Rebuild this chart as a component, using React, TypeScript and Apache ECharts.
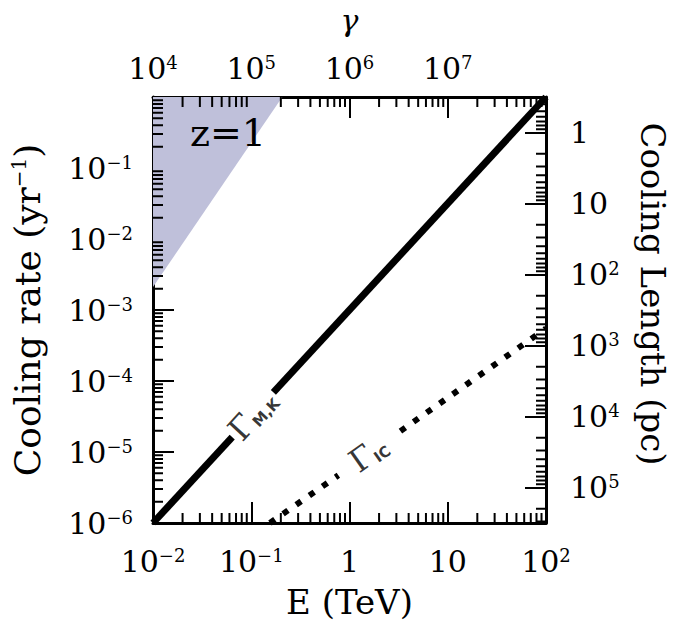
import React, { useEffect, useRef } from "react";
import * as echarts from "echarts";

// ---- tick values (actual quantities; axes are drawn in log10 space) ----
const energyMajor = [0.01, 0.1, 1, 10, 100];
const gammaMajor = [1e4, 1e5, 1e6, 1e7, 1e8];
const gammaLabels = [1e4, 1e5, 1e6, 1e7];
const rateMajor = [1e-6, 1e-5, 1e-4, 1e-3, 1e-2, 1e-1, 1];
const rateLabels = [1e-6, 1e-5, 1e-4, 1e-3, 1e-2, 1e-1];
const lengthMajor = [1, 10, 100, 1e3, 1e4, 1e5];

// ---- data (E in TeV, cooling rate in yr^-1) ----
const mkLowE = [0.01, 0.064];
const mkLowRate = [1e-6, 1.62e-5];
const mkHighE = [0.168, 100];
const mkHighRate = [6.9e-5, 1];
const icLowE = [0.155, 0.77];
const icLowRate = [1e-6, 4.7e-6];
const icHighE = [3.3, 100];
const icHighRate = [1.97e-5, 5.5e-4];
const shadeE = [0.01, 0.207];
const shadeRate = [2.1e-3, 1];
const labelE = [0.103, 1.56];
const labelRate = [3.3e-5, 9.5e-6];
const labelText = ["{g|Γ}{s|M,K}", "{g|Γ}{s|IC}"];

const SERIF = "DejaVu Serif";
const lg = (v: number) => Math.log10(v);

const GRID = { left: 153, top: 95, width: 393, height: 428 };
const eR = [-2, 2];
const gR = [4, 8];
const rR = [-6, 0];
const lR = [-0.5, 5.5];
const MINOR_PX = 10;
const xUnit = (eR[1] - eR[0]) / GRID.width;
const yUnit = (rR[1] - rR[0]) / GRID.height;

function minorOf(majors: number[]): number[] {
  const out: number[] = [];
  for (const m of majors) for (let k = 2; k <= 9; k++) out.push(m * k);
  return out;
}

function zip(a: number[], b: number[]) {
  return a.map((v, i) => [lg(v), lg(b[i])]);
}

// side: 0 bottom, 1 top, 2 left, 3 right ; short minor ticks, separated by gaps
function minorSegments(side: number, values: number[], range: number[]) {
  const out: any[] = [];
  values.forEach((val) => {
    const t = lg(val);
    if (t <= range[0] || t >= range[1]) return;
    if (side === 0) out.push([t, rR[0]], [t, rR[0] + MINOR_PX * yUnit], [t, "-"]);
    else if (side === 1) out.push([t, rR[1]], [t, rR[1] - MINOR_PX * yUnit], [t, "-"]);
    else if (side === 2) out.push([eR[0], t], [eR[0] + MINOR_PX * xUnit, t], ["-", t]);
    else out.push([eR[1], t], [eR[1] - MINOR_PX * xUnit, t], ["-", t]);
  });
  return out;
}

function powLabel(v: number): string {
  const n = Math.round(v);
  if (n === 0) return "{b|1}";
  if (n === 1) return "{b|10}";
  const s = n < 0 ? "−" + -n : String(n);
  return "{b|10}{s|" + s + "}";
}

const labelRich = {
  b: { fontSize: 30, fontFamily: SERIF, color: "#000" },
  s: { fontSize: 18, fontFamily: SERIF, color: "#000", verticalAlign: "top" },
};

function axis(extra: any, ticks: number[], labels: number[], margin: number) {
  return {
    type: "value",
    axisLine: { show: true, onZero: false, lineStyle: { color: "#000", width: 3 } },
    splitLine: { show: false },
    axisTick: { show: true, inside: true, length: 21, lineStyle: { color: "#000", width: 2 }, customValues: ticks.map(lg) },
    axisLabel: { customValues: labels.map(lg), formatter: powLabel, rich: labelRich, margin },
    ...extra,
  };
}

function minorSeries(xIdx: number, yIdx: number, data: any[]) {
  return {
    type: "line",
    xAxisIndex: xIdx,
    yAxisIndex: yIdx,
    silent: true,
    symbol: "none",
    data,
    lineStyle: { color: "#000", width: 2 },
  };
}

export default function App() {
  const ref = useRef<HTMLDivElement>(null);
  useEffect(() => {
    if (!ref.current) return;
    const chart = echarts.init(ref.current, undefined, { renderer: "svg" });
    const labelSeries = labelE.map((e, i) => ({
      type: "scatter",
      data: [[lg(e), lg(labelRate[i])]],
      symbolSize: 0,
      silent: true,
      label: {
        show: true,
        position: "inside",
        rotate: i === 0 ? 47.4 : 35.3,
        color: "#000",
        formatter: labelText[i],
        rich: {
          g: { fontSize: 32, fontFamily: SERIF, color: "#000" },
          s: { fontSize: 15, fontFamily: "DejaVu Sans", fontWeight: "bold", color: "#000", verticalAlign: "bottom" },
        },
      },
    }));
    chart.setOption({
      animation: false,
      backgroundColor: "#fff",
      title: {
        text: "z=1",
        left: 190,
        top: 114,
        padding: 0,
        textStyle: { fontSize: 38, fontFamily: SERIF, fontWeight: "normal", color: "#000" },
      },
      grid: [{ ...GRID }],
      xAxis: [
        axis(
          {
            position: "bottom",
            min: eR[0],
            max: eR[1],
            name: "E (TeV)",
            nameLocation: "middle",
            nameGap: 62,
            nameTextStyle: { fontSize: 34, fontFamily: SERIF, color: "#000" },
          },
          energyMajor,
          energyMajor,
          23
        ),
        axis(
          {
            position: "top",
            min: gR[0],
            max: gR[1],
            name: "γ",
            nameLocation: "middle",
            nameGap: 62,
            nameTextStyle: { fontSize: 30, fontFamily: SERIF, fontStyle: "italic", color: "#000" },
          },
          gammaMajor,
          gammaLabels,
          14
        ),
      ],
      yAxis: [
        axis(
          {
            position: "left",
            min: rR[0],
            max: rR[1],
            name: "{a|Cooling rate (yr}{s|−1}{a|)}",
            nameLocation: "middle",
            nameGap: 108,
            nameTextStyle: {
              rich: {
                a: { fontSize: 36, fontFamily: SERIF, color: "#000" },
                s: { fontSize: 20, fontFamily: SERIF, color: "#000", verticalAlign: "top" },
              },
            },
          },
          rateMajor,
          rateLabels,
          20
        ),
        axis(
          {
            position: "right",
            inverse: true,
            min: lR[0],
            max: lR[1],
            name: "Cooling Length (pc)",
            nameLocation: "middle",
            nameRotate: -90,
            nameGap: 90,
            nameTextStyle: { fontSize: 34, fontFamily: SERIF, color: "#000", padding: [0, 32, 0, 0] },
          },
          lengthMajor,
          lengthMajor,
          24
        ),
      ],
      series: [
        {
          type: "line",
          data: zip(shadeE, shadeRate),
          symbol: "none",
          silent: true,
          lineStyle: { width: 0 },
          areaStyle: { color: "#bfc0da", opacity: 1, origin: "end" },
        },
        minorSeries(0, 0, minorSegments(0, minorOf(energyMajor.slice(0, 4)), eR)),
        minorSeries(1, 0, minorSegments(1, minorOf(gammaMajor.slice(0, 4)), gR)),
        minorSeries(0, 0, minorSegments(2, minorOf(rateMajor.slice(0, 6)), rR)),
        minorSeries(0, 1, minorSegments(3, minorOf([0.1, ...lengthMajor]), lR)),
        {
          type: "line",
          clip: false,
          data: zip(mkLowE, mkLowRate),
          symbol: "none",
          lineStyle: { color: "#000", width: 7 },
        },
        {
          type: "line",
          clip: false,
          data: zip(mkHighE, mkHighRate),
          symbol: "none",
          lineStyle: { color: "#000", width: 7 },
        },
        {
          type: "line",
          data: zip(icLowE, icLowRate),
          symbol: "none",
          lineStyle: { color: "#000", width: 6, type: [6, 10] },
        },
        {
          type: "line",
          data: zip(icHighE, icHighRate),
          symbol: "none",
          lineStyle: { color: "#000", width: 6, type: [6, 10] },
        },
        ...labelSeries,
      ],
    } as any);
    return () => chart.dispose();
  }, []);
  return <div ref={ref} style={{ position: "fixed", left: 0, top: 0, width: 680, height: 632, background: "#fff" }} />;
}
